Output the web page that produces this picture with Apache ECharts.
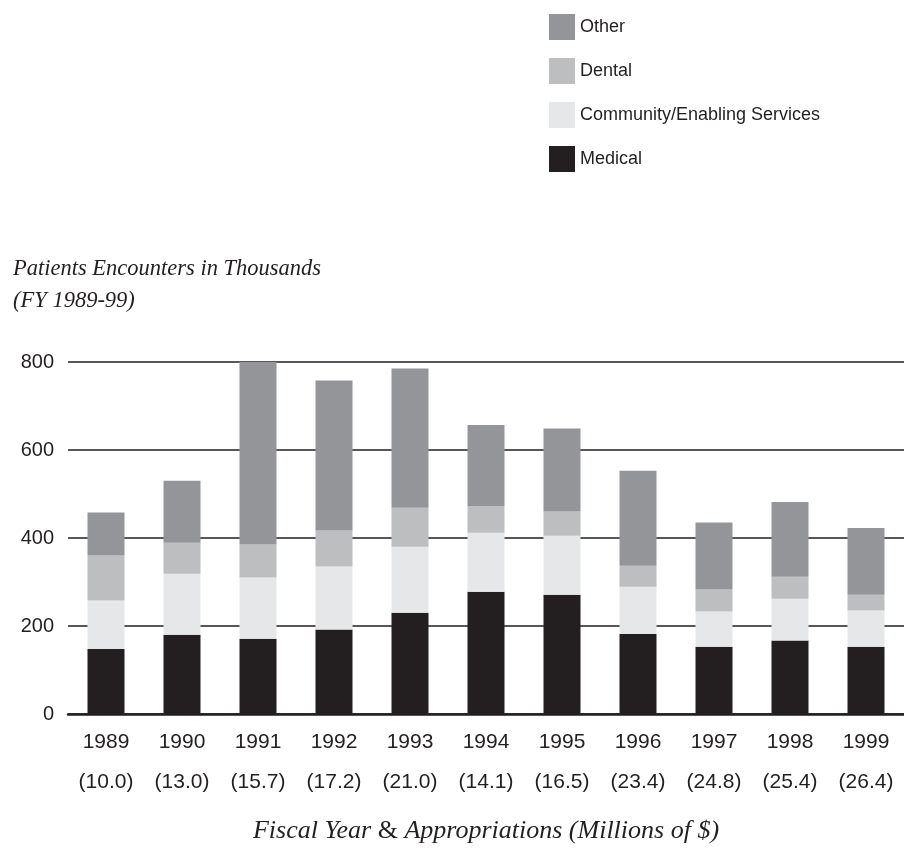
<!DOCTYPE html>
<html>
<head>
<meta charset="utf-8">
<script src="https://cdn.jsdelivr.net/npm/echarts@6/dist/echarts.min.js"></script>
<style>html,body{margin:0;padding:0;background:#fff}#c{width:904px;height:850px}</style>
</head>
<body>
<div id="c"></div>
<script>
const years = ['1989','1990','1991','1992','1993','1994','1995','1996','1997','1998','1999'];
const appropriations = ['10.0','13.0','15.7','17.2','21.0','14.1','16.5','23.4','24.8','25.4','26.4'];
const medical   = [148, 180, 171, 192, 230, 278, 271, 182, 153, 167, 153];
const community = [110, 139, 139, 143, 150, 134, 134, 107,  80,  95,  82];
const dental    = [102,  70,  75,  82,  89,  61,  55,  48,  50,  50,  36];
const other     = [ 98, 141, 418, 341, 316, 184, 189, 216, 152, 170, 152];
const yTicks = [0, 200, 400, 600, 800];

const colors = {
  'Medical': '#231f20',
  'Community/Enabling Services': '#e6e7e8',
  'Dental': '#bcbec0',
  'Other': '#939598'
};
const seriesDefs = [
  ['Medical', medical],
  ['Community/Enabling Services', community],
  ['Dental', dental],
  ['Other', other]
];

const chart = echarts.init(document.getElementById('c'), null, {renderer: 'canvas'});
chart.setOption({
  animation: false,
  backgroundColor: '#ffffff',
  title: {
    text: 'Patients Encounters in Thousands\n(FY 1989-99)',
    left: 8,
    top: 248,
    textStyle: {
      fontFamily: 'Liberation Serif',
      fontStyle: 'italic',
      fontWeight: 'normal',
      fontSize: 22.5,
      lineHeight: 32,
      color: '#231f20'
    }
  },
  legend: {
    orient: 'vertical',
    left: 544,
    top: 9,
    itemWidth: 26,
    itemHeight: 26,
    itemGap: 18,
    icon: 'rect',
    data: ['Other', 'Dental', 'Community/Enabling Services', 'Medical'],
    textStyle: {
      fontFamily: 'Liberation Sans, sans-serif',
      fontSize: 18,
      color: '#231f20',
      padding: [0, 0, 0, 0]
    }
  },
  grid: { left: 68, right: 0, top: 362, bottom: 136 },
  xAxis: {
    type: 'category',
    data: years,
    axisLine: { lineStyle: { color: '#231f20', width: 2.5 } },
    axisTick: { show: false },
    axisLabel: {
      margin: 8,
      formatter: function (v, i) { return '{y|' + v + '}\n{a|(' + appropriations[i] + ')}'; },
      rich: {
        y: { fontFamily: 'Liberation Sans, sans-serif', fontSize: 21, lineHeight: 40, color: '#231f20' },
        a: { fontFamily: 'Liberation Sans, sans-serif', fontSize: 21, lineHeight: 40, color: '#231f20' }
      }
    },
    name: '{i|Fiscal Year }{n|&}{i| Appropriations (Millions of $)}',
    nameLocation: 'middle',
    nameGap: 104,
    nameTextStyle: {
      rich: {
        i: { fontFamily: 'Liberation Serif', fontStyle: 'italic', fontSize: 26, color: '#231f20' },
        n: { fontFamily: 'Liberation Serif', fontSize: 26, color: '#231f20' }
      }
    }
  },
  yAxis: {
    type: 'value',
    min: yTicks[0],
    max: yTicks[yTicks.length - 1],
    interval: 200,
    axisLine: { show: false },
    axisTick: { show: false },
    axisLabel: {
      margin: 14,
      fontFamily: 'Liberation Sans, Arial, sans-serif',
      fontSize: 20,
      color: '#231f20'
    },
    splitLine: { lineStyle: { color: '#231f20', width: 1.6 } }
  },
  series: seriesDefs.map(function (d) {
    return {
      name: d[0],
      type: 'bar',
      stack: 'total',
      barWidth: 37,
      data: d[1],
      itemStyle: { color: colors[d[0]] },
      emphasis: { disabled: true }
    };
  })
});
</script>
</body>
</html>
